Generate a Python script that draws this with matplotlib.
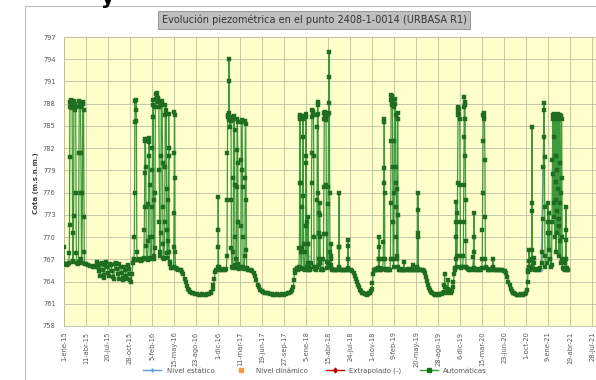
import numpy as np
import pandas as pd
import matplotlib
matplotlib.use("Agg")
import matplotlib.pyplot as plt
from matplotlib.patches import Rectangle
from matplotlib.lines import Line2D

# ---------------- DATA ----------------
titulo = "Evolución piezométrica en el punto 2408-1-0014 (URBASA R1)"
ylabel = "Cota (m.s.n.m.)"
fecha_inicio = "2015-01-01"
etiquetas_x = ['1-ene-15', '11-abr-15', '20-jul-15', '28-oct-15', '5-feb-16', '15-may-16',
               '23-ago-16', '1-dic-16', '11-mar-17', '19-jun-17', '27-sep-17', '5-ene-18',
               '15-abr-18', '24-jul-18', '1-nov-18', '9-feb-19', '20-may-19', '28-ago-19',
               '6-dic-19', '15-mar-20', '23-jun-20', '1-oct-20', '9-ene-21', '19-abr-21',
               '28-jul-21']
ticks_y = [758, 761, 764, 767, 770, 773, 776, 779, 782, 785, 788, 791, 794, 797]
series_leyenda = ["Nivel estático", "Nivel dinámico", "Extrapolado (-)", "Automáticas"]

# Automáticas: days since 2015-01-01 and level (m.s.n.m.), by period
dias_a = [0, 3, 8, 13, 18, 22, 24, 25, 26, 27,
          29, 31, 33, 35, 37, 39, 40, 42, 44, 45,
          47, 49, 51, 53, 55, 56, 58, 62, 66, 68,
          69, 71, 73, 75, 77, 78, 79, 81, 84, 85,
          87, 89, 91, 92, 94]
cota_a = [768.6, 766.3, 766.4, 766.2, 766.3, 766.5, 767.8, 771.6, 780.8, 788.2,
          787.6, 788.5, 787.9, 788.3, 787.4, 770.6, 766.6, 766.8, 772.8, 787.8,
          788.4, 787.2, 788.0, 787.5, 776.0, 767.8, 766.5, 766.4, 766.6, 781.3,
          788.3, 787.7, 788.1, 787.5, 781.3, 776.0, 767.0, 766.5, 775.9, 787.9,
          788.2, 787.1, 772.7, 768.0, 766.4]

dias_b = [100, 110, 120, 130, 138, 143, 148, 152, 156, 160,
          164, 167, 171, 176, 180, 184, 187, 192, 197, 201,
          206, 209, 214, 219, 224, 227, 230, 235, 240, 245,
          249, 252, 257, 262, 266, 270, 273, 278, 283, 287,
          290, 294, 299, 302, 305, 309, 313, 316]
cota_b = [766.3, 766.2, 766.1, 766.0, 766.1, 765.9, 766.3, 766.6, 766.0, 765.4,
          764.8, 766.3, 766.5, 765.6, 764.9, 764.5, 766.2, 766.6, 765.9, 765.2,
          764.7, 766.4, 766.2, 765.4, 764.6, 764.3, 766.3, 766.5, 765.7, 765.0,
          764.4, 766.4, 766.0, 765.2, 764.5, 764.2, 766.0, 765.6, 764.8, 764.3,
          766.2, 765.7, 765.0, 764.2, 764.0, 765.0, 766.5, 766.9]

dias_c = [318, 320, 321, 322, 323, 325, 327, 329, 331, 333,
          338, 343, 348, 353, 358, 363, 365, 366, 367, 368,
          370, 372, 373, 374, 376, 380, 383, 384, 385, 386,
          388, 390, 391, 392, 396, 399, 400, 401, 402, 403,
          404, 406, 407, 408, 410, 413, 414, 415, 417, 419,
          421, 423, 425, 427, 429, 431, 433, 434, 435, 437,
          440, 441, 442, 444, 446, 448, 449, 450, 451, 455,
          458, 459, 460, 461, 463, 465, 466, 467, 468, 470,
          473, 474, 475, 476, 477, 478, 480, 484, 488, 493,
          498, 499, 500, 501, 502, 503, 504, 505, 507, 512]
cota_c = [767.0, 770.0, 776.0, 785.5, 788.3, 787.1, 788.5, 785.6, 768.0, 766.9,
          766.9, 767.0, 766.8, 766.9, 767.0, 767.2, 770.9, 774.0, 778.6, 783.3,
          783.0, 779.5, 774.0, 768.8, 767.0, 766.9, 769.5, 774.5, 781.0, 783.4,
          782.8, 777.0, 770.0, 767.2, 767.0, 770.0, 774.0, 779.0, 782.0, 788.5,
          787.8, 786.2, 775.0, 767.5, 767.0, 768.5, 776.0, 787.5, 788.6, 789.3,
          788.9, 789.5, 788.7, 788.2, 788.8, 787.5, 779.0, 772.0, 768.0, 767.5,
          770.5, 781.0, 787.8, 788.4, 787.9, 780.0, 774.0, 769.0, 767.2, 767.0,
          772.0, 779.5, 786.5, 787.8, 787.2, 786.8, 776.5, 771.0, 767.8, 767.2,
          769.5, 775.0, 781.0, 786.6, 782.0, 768.0, 766.6, 766.3, 765.8, 765.8,
          765.9, 768.7, 773.2, 781.3, 786.9, 786.5, 778.0, 768.0, 765.8, 765.7]

dias_d = [518, 525, 532, 538, 543, 548, 553, 558, 563, 568,
          574, 580, 588, 596, 604, 612, 620, 628, 636, 644,
          652, 660, 666, 670, 675, 679, 683, 687, 691]
cota_d = [765.6, 765.6, 765.5, 765.3, 765.0, 764.4, 763.9, 763.4, 763.0, 762.8,
          762.6, 762.5, 762.4, 762.3, 762.3, 762.2, 762.2, 762.3, 762.2, 762.2,
          762.3, 762.3, 762.6, 762.4, 763.0, 763.6, 764.4, 765.3, 765.6]

dias_e = [695, 699, 700, 701, 702, 703, 707, 713, 720, 727,
          733, 738, 741, 742, 743, 744, 746, 748, 749, 750,
          751, 753, 755, 757, 759, 760, 761, 763, 766, 769,
          770, 771, 773, 775, 776, 777, 778, 781, 784, 785,
          786, 787, 789, 790, 791, 792, 796, 800, 804, 805,
          806, 807, 809, 811, 812, 813, 814, 818, 822, 823,
          824, 826, 828, 829, 830, 835]
cota_e = [765.6, 766.0, 768.6, 775.4, 771.0, 766.0, 765.6, 765.6, 765.7, 765.6,
          765.6, 765.7, 767.5, 775.0, 781.3, 786.2, 786.5, 785.8, 791.0, 794.0,
          786.7, 786.2, 784.8, 786.0, 785.6, 775.0, 768.5, 766.0, 765.8, 768.0,
          778.0, 786.0, 786.4, 784.5, 777.0, 770.0, 766.2, 765.8, 767.0, 776.7,
          781.8, 785.9, 785.5, 780.0, 772.0, 766.3, 765.7, 765.8, 766.0, 771.5,
          780.4, 785.8, 785.5, 779.0, 776.7, 770.0, 766.0, 765.7, 767.5, 778.0,
          785.6, 785.2, 775.0, 768.2, 765.8, 765.6]

dias_f = [841, 848, 855, 862, 868, 874, 880, 886, 892, 898,
          905, 912, 920, 928, 936, 944, 952, 960, 968, 976,
          984, 992, 1000, 1008, 1016, 1024, 1032, 1038, 1042, 1045,
          1048, 1052]
cota_f = [765.6, 765.5, 765.4, 765.2, 764.8, 764.2, 763.6, 763.2, 762.9, 762.7,
          762.6, 762.5, 762.5, 762.4, 762.3, 762.3, 762.2, 762.2, 762.3, 762.2,
          762.2, 762.3, 762.2, 762.3, 762.4, 762.5, 762.6, 762.8, 763.2, 764.2,
          765.2, 765.6]

dias_g = [1056, 1060, 1064, 1068, 1070, 1071, 1072, 1073, 1074, 1075,
          1076, 1077, 1080, 1083, 1084, 1085, 1086, 1087, 1088, 1089,
          1090, 1094, 1097, 1098, 1099, 1100, 1101, 1102, 1103, 1104,
          1107, 1108, 1109, 1110, 1111, 1112, 1116, 1120, 1124, 1125,
          1126, 1127, 1128, 1130, 1132, 1134, 1135, 1136, 1137, 1141,
          1145, 1149, 1150, 1151, 1152, 1153, 1154, 1155, 1156, 1157,
          1159, 1160, 1161, 1162, 1163, 1164, 1165, 1168, 1172, 1176,
          1179, 1180, 1181, 1182, 1183, 1185, 1187, 1189, 1191, 1192,
          1193, 1194, 1196, 1199, 1200, 1201, 1202, 1203, 1204, 1205,
          1206, 1207, 1208, 1209, 1212, 1213, 1214, 1215, 1216, 1220,
          1226, 1232, 1238, 1244, 1248, 1249, 1250, 1251, 1252, 1258,
          1264, 1270, 1276, 1282, 1288, 1290, 1291, 1292, 1293, 1298,
          1304, 1310]
cota_g = [765.6, 765.8, 765.6, 766.0, 768.5, 777.3, 786.2, 786.5, 785.9, 777.3,
          768.0, 765.8, 765.7, 768.5, 774.0, 783.5, 786.4, 786.0, 775.5, 769.0,
          765.7, 765.6, 768.0, 771.5, 781.0, 786.6, 786.2, 780.0, 772.0, 766.0,
          765.6, 766.5, 769.1, 772.7, 769.0, 765.9, 765.6, 765.7, 766.5, 777.3,
          781.3, 786.2, 787.1, 786.8, 787.0, 786.5, 781.0, 770.0, 766.0, 765.7,
          765.6, 766.0, 775.0, 784.8, 786.5, 788.2, 787.8, 786.6, 776.0, 766.2,
          767.0, 770.5, 773.2, 774.6, 773.0, 770.0, 766.5, 765.6, 765.7, 765.6,
          767.0, 770.4, 776.7, 786.0, 786.7, 786.3, 786.9, 786.2, 785.8, 777.0,
          770.4, 766.6, 765.8, 766.5, 774.5, 776.7, 786.5, 788.1, 791.6, 795.0,
          786.7, 776.0, 768.0, 765.9, 766.2, 767.0, 769.1, 767.5, 765.7, 765.6,
          765.6, 765.5, 765.6, 765.5, 766.0, 768.6, 775.9, 768.6, 765.8, 765.5,
          765.6, 765.5, 765.6, 765.5, 765.5, 767.0, 769.6, 768.8, 765.8, 765.5,
          765.5, 765.4]

dias_h = [1316, 1321, 1326, 1331, 1336, 1341, 1346, 1351, 1356, 1361,
          1366, 1371, 1376, 1381, 1386, 1391, 1395, 1399, 1402, 1405,
          1408]
cota_h = [765.2, 764.8, 764.4, 764.0, 763.6, 763.2, 762.9, 762.7, 762.5, 762.4,
          762.3, 762.3, 762.2, 762.3, 762.4, 762.5, 762.7, 763.0, 763.8, 765.0,
          765.6]

dias_i = [1412, 1416, 1420, 1424, 1428, 1430, 1431, 1432, 1433, 1434,
          1438, 1443, 1448, 1451, 1452, 1453, 1454, 1455, 1456, 1457,
          1458, 1459, 1463, 1467, 1472, 1477, 1481, 1484, 1485, 1486,
          1487, 1488, 1489, 1490, 1491, 1493, 1494, 1495, 1496, 1498,
          1500, 1501, 1502, 1503, 1505, 1507, 1508, 1509, 1510, 1511,
          1512, 1514, 1515, 1516, 1517, 1518, 1519, 1523, 1528, 1533,
          1538, 1543, 1545, 1547, 1552, 1557, 1562, 1567, 1572, 1577,
          1582, 1586, 1588, 1593, 1598, 1603, 1606, 1607, 1608, 1609,
          1610, 1611, 1615, 1620, 1625, 1630, 1634]
cota_i = [765.6, 765.7, 765.6, 765.6, 765.8, 767.0, 768.6, 770.0, 767.0, 765.8,
          765.6, 765.6, 765.7, 767.0, 769.3, 777.3, 779.3, 786.0, 785.5, 776.0,
          767.0, 765.7, 765.6, 765.6, 765.7, 765.6, 765.6, 767.0, 774.6, 783.0,
          789.2, 788.5, 788.9, 787.8, 789.0, 788.2, 779.5, 772.0, 767.0, 766.0,
          776.0, 783.0, 787.5, 788.6, 788.0, 786.5, 779.4, 777.3, 774.0, 770.0,
          767.0, 767.5, 776.5, 786.8, 786.0, 773.0, 766.0, 765.6, 765.6, 765.7,
          765.6, 765.6, 766.6, 765.6, 765.6, 765.6, 765.7, 765.6, 765.6, 765.6,
          765.7, 766.2, 765.6, 765.6, 765.6, 765.6, 766.0, 770.5, 773.6, 776.0,
          770.0, 765.7, 765.6, 765.6, 765.5, 765.5, 765.4]

dias_j = [1639, 1644, 1649, 1654, 1659, 1664, 1669, 1674, 1680, 1686,
          1692, 1698, 1704, 1710, 1716, 1722, 1726, 1728, 1730, 1732,
          1735, 1740, 1744, 1746, 1748, 1753, 1758, 1763, 1767, 1770,
          1773, 1776]
cota_j = [765.1, 764.6, 764.1, 763.6, 763.1, 762.8, 762.6, 762.4, 762.3, 762.2,
          762.2, 762.3, 762.2, 762.3, 762.3, 762.4, 762.6, 763.5, 765.0, 763.2,
          762.6, 762.5, 763.0, 764.2, 762.9, 762.6, 762.5, 762.7, 763.2, 764.0,
          765.0, 765.6]

dias_k = [1779, 1780, 1781, 1782, 1783, 1784, 1787, 1788, 1789, 1790,
          1791, 1793, 1795, 1797, 1799, 1800, 1801, 1802, 1803, 1806,
          1812, 1815, 1816, 1817, 1818, 1819, 1820, 1821, 1822, 1823,
          1824, 1825, 1826, 1827, 1830, 1834, 1840, 1846, 1852, 1858,
          1861, 1862, 1863, 1864, 1865, 1870, 1876, 1882, 1888, 1894,
          1899, 1901, 1902, 1903, 1904, 1905, 1907, 1909, 1911, 1913,
          1914, 1915, 1916, 1920, 1925, 1931, 1937, 1943, 1949, 1950,
          1951, 1956, 1962, 1968, 1974, 1980, 1986, 1992, 1998, 2004]
cota_k = [765.8, 767.0, 772.0, 774.7, 770.0, 766.0, 767.5, 773.2, 777.3, 786.5,
          787.5, 787.0, 786.6, 787.3, 786.0, 777.0, 772.0, 767.5, 766.0, 765.8,
          766.0, 767.5, 772.0, 777.0, 783.5, 787.5, 788.9, 787.8, 788.2, 786.0,
          781.0, 775.0, 769.5, 766.0, 765.8, 765.7, 765.6, 765.7, 765.6, 765.7,
          767.3, 770.0, 773.2, 768.0, 765.8, 765.6, 765.6, 765.7, 765.6, 765.6,
          765.8, 767.0, 771.0, 776.0, 783.0, 786.5, 786.0, 786.7, 786.2, 780.4,
          772.7, 767.0, 766.0, 765.8, 765.6, 765.6, 765.7, 765.6, 766.0, 767.0,
          765.8, 765.6, 765.6, 765.5, 765.6, 765.5, 765.6, 765.5, 765.4, 765.4]

dias_l = [2010, 2015, 2020, 2025, 2030, 2035, 2040, 2046, 2052, 2058,
          2064, 2070, 2076, 2082, 2088, 2094, 2100, 2104, 2107, 2109]
cota_l = [765.1, 764.6, 764.0, 763.5, 763.0, 762.7, 762.5, 762.4, 762.3, 762.2,
          762.2, 762.2, 762.3, 762.2, 762.2, 762.3, 762.4, 762.9, 764.0, 765.3]

dias_m = [2111, 2113, 2114, 2115, 2120, 2124, 2125, 2126, 2127, 2128,
          2129, 2131, 2135, 2136, 2137, 2142, 2148, 2154, 2160, 2165,
          2172, 2174, 2176, 2178, 2180, 2182, 2183, 2184, 2185, 2186,
          2188, 2196, 2198, 2200, 2202, 2204, 2206, 2208, 2210, 2212,
          2216, 2218, 2220, 2222, 2223, 2224, 2225, 2226, 2227, 2228,
          2229, 2230, 2231, 2233, 2234, 2235, 2236, 2237, 2238, 2240,
          2241, 2242, 2243, 2244, 2246, 2247, 2248, 2249, 2250, 2251,
          2253, 2254, 2255, 2256, 2257, 2259, 2260, 2262, 2263, 2264,
          2265, 2267, 2272, 2276, 2279, 2280, 2281, 2282, 2283, 2285,
          2288, 2291]
cota_m = [765.6, 766.8, 768.2, 766.0, 765.6, 766.0, 768.2, 774.6, 784.8, 773.5,
          767.0, 765.7, 766.5, 767.2, 765.7, 765.6, 765.6, 765.7, 765.6, 765.8,
          766.5, 768.0, 772.5, 779.4, 783.5, 788.1, 787.2, 780.8, 774.0, 767.5,
          766.0, 766.5, 770.5, 774.6, 772.0, 768.2, 773.2, 770.5, 767.0, 766.0,
          766.2, 772.0, 780.4, 786.5, 786.0, 778.5, 772.7, 786.2, 786.6, 783.5,
          774.6, 770.0, 786.0, 786.5, 781.0, 775.0, 768.0, 777.5, 786.3, 786.0,
          773.5, 770.5, 779.0, 786.6, 786.2, 776.5, 771.5, 767.5, 772.5, 786.0,
          786.5, 780.0, 774.6, 769.5, 766.5, 776.0, 786.3, 786.0, 778.0, 770.0,
          767.0, 765.8, 765.7, 765.6, 766.5, 769.6, 774.0, 771.0, 767.0, 765.8,
          765.6, 765.6]

# Nivel estático (manual readings; gaps where no line is drawn)
dias_est = [1104, 1109, 1114, np.nan, 2168, 2177]
cota_est = [765.6, 767.5, 765.6, np.nan, 765.6, 779.4]

# ---------------- ASSEMBLY ----------------
pares = [(dias_a, cota_a), (dias_b, cota_b), (dias_c, cota_c), (dias_d, cota_d),
         (dias_e, cota_e), (dias_f, cota_f), (dias_g, cota_g), (dias_h, cota_h),
         (dias_i, cota_i), (dias_j, cota_j), (dias_k, cota_k), (dias_l, cota_l),
         (dias_m, cota_m)]
for k, (d, c) in enumerate(pares):
    if len(d) != len(c):
        raise ValueError(f"length mismatch in block {k}: {len(d)} vs {len(c)}")
dias_auto = np.concatenate([np.asarray(d, float) for d, _ in pares])
cota_auto = np.concatenate([np.asarray(c, float) for _, c in pares])

t0 = pd.Timestamp(fecha_inicio)
def to_dates(days):
    days = np.asarray(days, float)
    out = []
    for v in days:
        out.append(pd.NaT if np.isnan(v) else t0 + pd.Timedelta(days=float(v)))
    return pd.to_datetime(out)

f_auto = to_dates(dias_auto)
f_est = to_dates(dias_est)
tick_dates = [t0 + pd.Timedelta(days=100 * i) for i in range(len(etiquetas_x))]

# ---------------- FIGURE ----------------
plt.rcParams['font.family'] = ['DejaVu Sans']
W, H = 596, 380
fig = plt.figure(figsize=(W / 100, H / 100), dpi=100)
fig.patch.set_facecolor('white')

# outer chart border (cropped Excel chart area)
fig.add_artist(Rectangle((25 / W, -0.2), 2.0, 1.2 - 6 / H, transform=fig.transFigure,
                         fill=False, ec='#BFBFBF', lw=0.8))
# remnant glyph cropped at the top
fig.text(101 / W, 1 - 3.5 / H, 'y', fontsize=15, fontweight='bold', color='black',
         va='baseline', ha='left')

left, right, top, bottom = 64, 596, 37, 326
ax = fig.add_axes([left / W, 1 - bottom / H, (right - left) / W, (bottom - top) / H])
ax.set_facecolor('#FFFFCC')

ax.plot(f_est, cota_est, color='#7FB2E5', lw=1.0, marker='+', ms=3, zorder=2)
ax.plot(f_auto, cota_auto, color='#3C9A3C', lw=0.9, marker='s', ms=3.1,
        mfc='#1F6E1F', mec='#1F6E1F', mew=0.3, zorder=3)

ax.set_ylim(758, 797)
ax.set_yticks(ticks_y)
ax.set_yticklabels([str(v) for v in ticks_y])
xmax_days = 2418
ax.set_xlim(t0, t0 + pd.Timedelta(days=xmax_days))
ax.set_xticks(tick_dates)
ax.set_xticklabels(etiquetas_x, rotation=90)
ax.grid(True, color='#BDBDA5', lw=0.6)
ax.set_axisbelow(True)
ax.tick_params(axis='both', length=0, labelsize=4.8, colors='#595959')
ax.tick_params(axis='y', pad=6)
ax.tick_params(axis='x', pad=4)
for s in ax.spines.values():
    s.set_color('#BDBDA5')
    s.set_linewidth(0.6)

fig.text(36 / W, 1 - 183 / H, ylabel, rotation=90, fontsize=5, fontweight='bold',
         color='#404040', ha='center', va='center')

fig.text(314 / W, 1 - 20 / H, titulo, fontsize=7, color='#333333', ha='center', va='center',
         bbox=dict(boxstyle='square,pad=0.35', fc='#BFBFBF', ec='#8C8C8C', lw=0.6))

handles = [
    Line2D([], [], color='#5B9BD5', lw=1.0, marker='+', ms=3),
    Line2D([], [], color='#F39C45', lw=0, marker='s', ms=2.5),
    Line2D([], [], color='#C00000', lw=1.0, marker='d', ms=2.5),
    Line2D([], [], color='#3C9A3C', lw=1.0, marker='s', ms=2.5, mfc='#1F6E1F', mec='#1F6E1F'),
]
leg = fig.legend(handles, series_leyenda, loc='center', ncol=4,
                 bbox_to_anchor=(315 / W, 1 - 371 / H), frameon=False, fontsize=5,
                 handlelength=2.6, columnspacing=2.6, handletextpad=0.8)
for t in leg.get_texts():
    t.set_color('#595959')

fig.savefig('out.png', dpi=100)
